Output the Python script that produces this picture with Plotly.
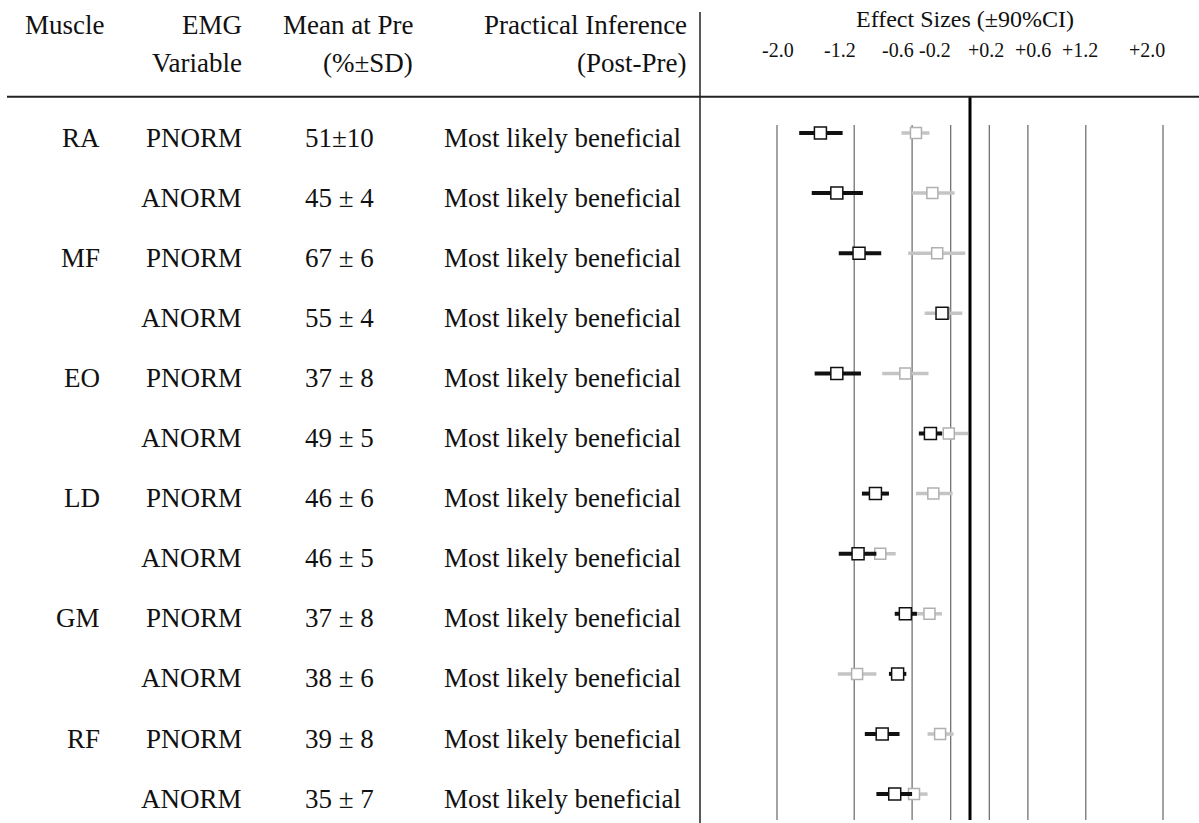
import plotly.graph_objects as go

# ---------------- data ----------------
muscles = ["RA", "", "MF", "", "EO", "", "LD", "", "GM", "", "RF", ""]
variables = ["PNORM", "ANORM"] * 6
means = ["51±10", "45 ± 4", "67 ± 6", "55 ± 4", "37 ± 8", "49 ± 5",
         "46 ± 6", "46 ± 5", "37 ± 8", "38 ± 6", "39 ± 8", "35 ± 7"]
inference = ["Most likely beneficial"] * 12

# effect sizes (black series) with 90% CI
es_black = [-1.55, -1.38, -1.15, -0.29, -1.38, -0.41, -0.98, -1.16, -0.67, -0.75, -0.91, -0.78]
lo_black = [-1.77, -1.64, -1.36, -0.34, -1.61, -0.53, -1.12, -1.36, -0.78, -0.84, -1.09, -0.97]
hi_black = [-1.32, -1.11, -0.92, -0.24, -1.13, -0.29, -0.84, -0.97, -0.55, -0.66, -0.73, -0.60]

# effect sizes (grey series) with 90% CI
es_grey = [-0.56, -0.39, -0.34, -0.27, -0.67, -0.22, -0.38, -0.93, -0.42, -1.17, -0.31, -0.58]
lo_grey = [-0.71, -0.60, -0.64, -0.47, -0.91, -0.36, -0.56, -1.11, -0.55, -1.37, -0.44, -0.73]
hi_grey = [-0.42, -0.16, -0.05, -0.08, -0.43, -0.02, -0.18, -0.77, -0.29, -0.97, -0.17, -0.44]

tick_vals = [-2.0, -1.2, -0.6, -0.2, 0.2, 0.6, 1.2, 2.0]
tick_text = ["-2.0", "-1.2", "-0.6", "-0.2", "+0.2", "+0.6", "+1.2", "+2.0"]

headers_row1 = ["Muscle", "EMG", "Mean at Pre", "Practical Inference"]
headers_row2 = ["", "Variable", "(%±SD)", "(Post-Pre)"]
es_title = "Effect Sizes (±90%CI)"

# ---------------- layout constants ----------------
W, H = 1199, 823
FONT = "Liberation Serif, Times New Roman, Tinos, DejaVu Serif, serif"
TXT = "#111111"

def px_y(p):  # pixel row -> y data value
    return (p - 137.5) / 60.1

rows = list(range(len(variables)))
mark_y = [r - 0.075 for r in rows]

fig = go.Figure()

def diffs(es, lo, hi):
    return [h - e for e, h in zip(es, hi)], [e - l for e, l in zip(es, lo)]

gp, gm = diffs(es_grey, lo_grey, hi_grey)
bp, bm = diffs(es_black, lo_black, hi_black)

fig.add_trace(go.Scatter(
    x=es_grey, y=mark_y, mode="markers",
    marker=dict(symbol="square", size=11, color="white",
                line=dict(color="#b0b0b0", width=1.5)),
    error_x=dict(type="data", symmetric=False, array=gp, arrayminus=gm,
                 thickness=3.5, width=0, color="#c4c4c4"),
    showlegend=False, hoverinfo="skip"))

fig.add_trace(go.Scatter(
    x=es_black, y=mark_y, mode="markers",
    marker=dict(symbol="square", size=12, color="white",
                line=dict(color="#111111", width=1.5)),
    error_x=dict(type="data", symmetric=False, array=bp, arrayminus=bm,
                 thickness=4, width=0, color="#111111"),
    showlegend=False, hoverinfo="skip"))

shapes = []
# vertical reference lines
for v in tick_vals:
    shapes.append(dict(type="line", xref="x", yref="paper", x0=v, x1=v,
                       y0=1 - 820 / H, y1=1 - 125 / H,
                       line=dict(color="#666666", width=1.2), layer="below"))
# zero line
shapes.append(dict(type="line", xref="x", yref="paper", x0=0, x1=0,
                   y0=1 - 820 / H, y1=1 - 97 / H,
                   line=dict(color="#000000", width=3), layer="below"))
# header horizontal line
shapes.append(dict(type="line", xref="paper", yref="paper", x0=7 / W, x1=1,
                   y0=1 - 96.7 / H, y1=1 - 96.7 / H,
                   line=dict(color="#222222", width=2)))
# column divider
shapes.append(dict(type="line", xref="paper", yref="paper", x0=700 / W, x1=700 / W,
                   y0=0, y1=1 - 12 / H,
                   line=dict(color="#222222", width=1.5)))

ann = []
def add_text(text, x, y, anchor, size=27, yref="y"):
    ann.append(dict(text=text, x=x, y=y, xref="paper", yref=yref,
                    xanchor=anchor, yanchor="middle", showarrow=False,
                    font=dict(family=FONT, size=size, color=TXT)))

# headers
hx = [(23 / W, "left"), (243.5 / W, "right"), (415 / W, "right"), (688.5 / W, "right")]
for (x, a), t1, t2 in zip(hx, headers_row1, headers_row2):
    add_text(t1, x, px_y(25), a)
    if t2:
        add_text(t2, x, px_y(63), a)

# rows
for r in rows:
    if muscles[r]:
        add_text(muscles[r], 102 / W, r, "right")
    add_text(variables[r], 243.5 / W, r, "right")
    add_text(means[r], 303 / W, r, "left")
    add_text(inference[r], 442 / W, r, "left")

# effect size title and tick labels
add_text(es_title, 965 / W, px_y(19), "center", size=24)
tick_shift = [1, -14, -14.5, -15.5, -3.5, 5, -6, -16]
for v, t, s in zip(tick_vals, tick_text, tick_shift):
    ann.append(dict(text=t, x=v, y=px_y(50), xref="x", yref="y",
                    xanchor="center", yanchor="middle", xshift=s, showarrow=False,
                    font=dict(family=FONT, size=20, color=TXT)))

x_lo, x_hi = -2.2, 2.2
px_per = 96.5
left_px = 970 + px_per * x_lo
right_px = 970 + px_per * x_hi

fig.update_layout(
    width=W, height=H, margin=dict(l=0, r=0, t=0, b=0),
    paper_bgcolor="white", plot_bgcolor="white",
    xaxis=dict(domain=[left_px / W, right_px / W], range=[x_lo, x_hi],
               visible=False, showgrid=False, zeroline=False),
    yaxis=dict(domain=[0, 1], range=[px_y(H), px_y(0)], visible=False,
               showgrid=False, zeroline=False),
    shapes=shapes, annotations=ann,
    font=dict(family=FONT, color=TXT),
)

fig.write_html("out.html", post_script="document.body.style.margin='0';",
               config={"displayModeBar": False})
